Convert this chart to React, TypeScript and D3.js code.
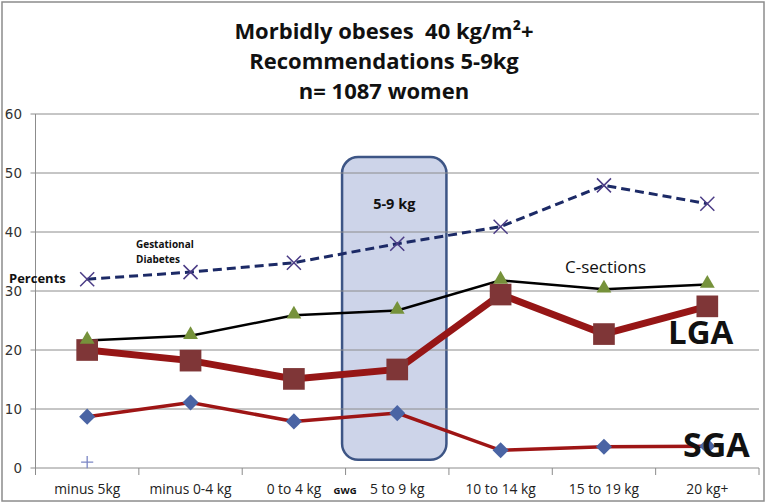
import React, { useEffect, useRef } from 'react';
import * as d3 from 'd3';

const categories = ["minus 5kg", "minus 0-4 kg", "0 to 4 kg", "5 to 9 kg", "10 to 14 kg", "15 to 19 kg", "20 kg+"];
const gdm = [32.0, 33.2, 34.8, 38.0, 40.9, 47.9, 44.8];
const cSections = [21.6, 22.4, 25.9, 26.7, 31.8, 30.3, 31.1];
const lga = [20.0, 18.2, 15.1, 16.7, 29.4, 22.7, 27.4];
const sga = [8.7, 11.1, 7.9, 9.3, 3.0, 3.6, 3.7];
const extra = [1.0]; // lone "+" marker at minus 5kg
const yTicks = [0, 10, 20, 30, 40, 50, 60];
const titleLines = ["Morbidly obeses  40 kg/m²+", "Recommendations 5-9kg", "n= 1087 women"];
const highlightCat = "5 to 9 kg";
const highlightRange = [1.4, 52.7];

const FONT = "'Open Sans', Lato, sans-serif";

export default function App() {
  const svgRef = useRef<SVGSVGElement>(null);

  useEffect(() => {
    document.body.style.margin = "0";
    if (!svgRef.current) return;
    const svg = d3.select(svgRef.current);
    svg.selectAll("*").remove();

    const width = 767;
    const height = 504;
    const margin = { top: 114, right: 8, bottom: 36, left: 35.5 };

    const x = d3.scaleBand<string>()
      .domain(categories)
      .range([margin.left, width - margin.right]);
    const cx = (c: string) => (x(c) as number) + x.bandwidth() / 2;

    const y = d3.scaleLinear()
      .domain([0, 60])
      .range([height - margin.bottom, margin.top]);

    // outer frame
    svg.append("rect")
      .attr("x", 2).attr("y", 2)
      .attr("width", width - 5).attr("height", height - 5)
      .attr("fill", "white")
      .attr("stroke", "#8c8c8c")
      .attr("stroke-width", 1.5);

    // title
    svg.append("g").selectAll("text")
      .data(titleLines)
      .enter().append("text")
      .attr("x", 384)
      .attr("y", (_d, i) => 38.5 + i * 30)
      .attr("text-anchor", "middle")
      .attr("font-family", FONT)
      .attr("font-weight", "bold")
      .attr("font-size", "22px")
      .attr("fill", "#111")
      .style("white-space", "pre")
      .text(d => d);

    // highlight box behind the grid
    const bx = x(highlightCat) as number;
    svg.append("rect")
      .attr("x", bx - 3.5)
      .attr("y", y(highlightRange[1]))
      .attr("width", x.bandwidth() + 1)
      .attr("height", y(highlightRange[0]) - y(highlightRange[1]))
      .attr("rx", 16)
      .attr("fill", "#cdd4e9")
      .attr("stroke", "#3d5585")
      .attr("stroke-width", 2.5);

    // gridlines
    svg.append("g").selectAll("line")
      .data(yTicks)
      .enter().append("line")
      .attr("x1", margin.left - 5)
      .attr("x2", width - margin.right)
      .attr("y1", d => y(d))
      .attr("y2", d => y(d))
      .attr("stroke", "#8c8c8c")
      .attr("stroke-width", 1);

    // y axis line
    svg.append("line")
      .attr("x1", margin.left).attr("x2", margin.left)
      .attr("y1", y(60)).attr("y2", y(0))
      .attr("stroke", "#8c8c8c");

    // y tick labels
    svg.append("g").selectAll("text")
      .data(yTicks)
      .enter().append("text")
      .attr("x", 22)
      .attr("y", d => y(d) + 5)
      .attr("text-anchor", "end")
      .attr("font-family", "'DejaVu Sans', Verdana, sans-serif")
      .attr("font-size", "13.5px")
      .attr("fill", "#333")
      .text(d => d);

    // x ticks
    const bounds = categories.map(c => x(c) as number).concat([x.range()[1]]);
    svg.append("g").selectAll("line")
      .data(bounds)
      .enter().append("line")
      .attr("x1", d => d).attr("x2", d => d)
      .attr("y1", y(0)).attr("y2", y(0) + 7)
      .attr("stroke", "#8c8c8c");

    // x labels
    svg.append("g").selectAll("text")
      .data(categories)
      .enter().append("text")
      .attr("x", d => cx(d))
      .attr("y", 494)
      .attr("text-anchor", "middle")
      .attr("font-family", FONT)
      .attr("font-size", "13.8px")
      .attr("fill", "#222")
      .text(d => d);

    svg.append("text")
      .attr("x", bx - 12).attr("y", 494)
      .attr("font-family", FONT)
      .attr("font-weight", "bold")
      .attr("font-size", "9.5px")
      .attr("fill", "#111")
      .text("GWG");

    const lineOf = (vals: number[]) => d3.line<number>()
      .x((_d, i) => cx(categories[i]))
      .y(d => y(d))(vals);

    // SGA line
    svg.append("path")
      .attr("d", lineOf(sga))
      .attr("fill", "none")
      .attr("stroke", "#9e1515")
      .attr("stroke-width", 3.5);

    // LGA line
    svg.append("path")
      .attr("d", lineOf(lga))
      .attr("fill", "none")
      .attr("stroke", "#961616")
      .attr("stroke-width", 7);

    // C-sections line
    svg.append("path")
      .attr("d", lineOf(cSections))
      .attr("fill", "none")
      .attr("stroke", "#000")
      .attr("stroke-width", 2.5);

    // GDM dashed line
    svg.append("path")
      .attr("d", lineOf(gdm))
      .attr("fill", "none")
      .attr("stroke", "#1c2a66")
      .attr("stroke-width", 3)
      .attr("stroke-dasharray", "9,5");

    // markers
    const sym = (type: d3.SymbolType, size: number) => d3.symbol().type(type).size(size)() as string;

    svg.append("g").selectAll("path")
      .data(sga)
      .enter().append("path")
      .attr("d", sym(d3.symbolSquare, 130))
      .attr("transform", (d, i) => `translate(${cx(categories[i])},${y(d)}) rotate(45)`)
      .attr("fill", "#4a64a4");

    svg.append("g").selectAll("path")
      .data(lga)
      .enter().append("path")
      .attr("d", sym(d3.symbolSquare, 470))
      .attr("transform", (d, i) => `translate(${cx(categories[i])},${y(d)})`)
      .attr("fill", "#7f3637");

    svg.append("g").selectAll("path")
      .data(cSections)
      .enter().append("path")
      .attr("d", sym(d3.symbolTriangle, 95))
      .attr("transform", (d, i) => `translate(${cx(categories[i])},${y(d) - 1})`)
      .attr("fill", "#76923b");

    svg.append("g").selectAll("path")
      .data(gdm)
      .enter().append("path")
      .attr("d", sym(d3.symbolTimes, 130))
      .attr("transform", (d, i) => `translate(${cx(categories[i])},${y(d)})`)
      .attr("fill", "none")
      .attr("stroke", "#4b3c86")
      .attr("stroke-width", 1.5);

    svg.append("g").selectAll("path")
      .data(extra)
      .enter().append("path")
      .attr("d", sym(d3.symbolPlus, 50))
      .attr("transform", (d, i) => `translate(${cx(categories[i])},${y(d)})`)
      .attr("fill", "none")
      .attr("stroke", "#7b86c4")
      .attr("stroke-width", 1.3);

    // annotations
    const note = (t: string, px: number, py: number, size: number, bold = true, anchor = "start") =>
      svg.append("text")
        .attr("x", px).attr("y", py)
        .attr("text-anchor", anchor)
        .attr("font-family", FONT)
        .attr("font-weight", bold ? "bold" : "normal")
        .attr("font-size", `${size}px`)
        .attr("fill", "#111")
        .text(t);

    note("Percents", 9, 283, 13);
    note("Gestational", 136, 248, 10);
    note("Diabetes", 136, 263, 10);
    note("5-9 kg", cx(highlightCat) - 3, 209, 14.5, true, "middle");
    note("C-sections", 565, 273, 17, false);
    note("LGA", 668, 344, 33);
    note("SGA", 683, 457, 34);
  }, []);

  return (
    <svg ref={svgRef} width={767} height={504} viewBox="0 0 767 504" style={{ display: 'block' }}></svg>
  );
}
